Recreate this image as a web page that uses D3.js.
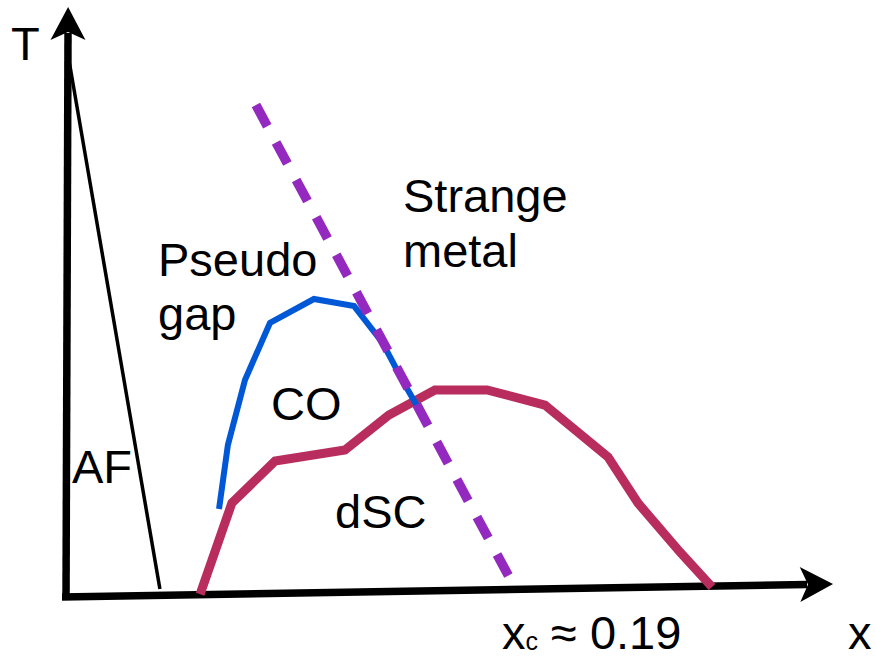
<!DOCTYPE html>
<html>
<head>
<meta charset="utf-8">
<script src="https://cdn.jsdelivr.net/npm/d3@7"></script>
<style>
  body { margin: 0; background: #fff; }
  text { font-family: "Liberation Sans", Arial, Helvetica, sans-serif; font-size: 47px; fill: #000; }
</style>
</head>
<body>
<div id="phase-diagram"></div>
<script>
// doping x and temperature T (arbitrary units)
const coX = [0.0655, 0.0693, 0.0766, 0.0873, 0.1061, 0.1233, 0.1353, 0.1451, 0.1545];
const coT = [47.4, 81.9, 116.9, 147.6, 160.5, 156.7, 137.3, 114.2, 93.7];

const scX = [0.0574, 0.0710, 0.0895, 0.1194, 0.1382, 0.1579, 0.1802, 0.2050, 0.2320, 0.2448, 0.2628, 0.2765];
const scT = [1.5, 50.6, 73.2, 79.2, 98.0, 111.5, 111.5, 103.4, 75.4, 50.6, 24.2, 5.4];

const afX = [0.0013, 0.0402];
const afT = [289, 4.3];

// strange metal / pseudogap crossover ending at x_c
const smX = [0.0813, 0.19];
const smT = [265, 10];

// hand drawn axes, slightly tilted
const xAxisX = [-0.0017, 0.3283];
const xAxisT = [0, 7];
const yAxisX = [0, 0.0009];
const yAxisT = [-1.6, 317.8];

const width = 876;
const height = 660;

const svg = d3.select("#phase-diagram")
  .append("svg")
  .attr("width", width)
  .attr("height", height)
  .attr("viewBox", [0, 0, width, height]);

// scales: doping -> px, temperature -> px
const xScale = d3.scaleLinear().domain([0, 0.33]).range([66, 837]);
const yScale = d3.scaleLinear().domain([0, 300]).range([597, 40]);

const line = d3.line()
  .x(d => xScale(d[0]))
  .y(d => yScale(d[1]));

// draws a shaft plus a notched arrow head at the second point
function arrow(xs, ts) {
  const p0 = [xScale(xs[0]), yScale(ts[0])];
  const p1 = [xScale(xs[1]), yScale(ts[1])];
  const dx = p1[0] - p0[0], dy = p1[1] - p0[1];
  const len = Math.hypot(dx, dy);
  const ux = dx / len, uy = dy / len;
  const nx = -uy, ny = ux;
  const L = 33, W = 17.5, notch = 25;
  svg.append("line")
    .attr("x1", p0[0]).attr("y1", p0[1])
    .attr("x2", p1[0] - ux * (notch + 1)).attr("y2", p1[1] - uy * (notch + 1))
    .attr("stroke", "#000")
    .attr("stroke-width", 7.5);
  const head = [
    p1,
    [p1[0] - ux * L + nx * W, p1[1] - uy * L + ny * W],
    [p1[0] - ux * notch, p1[1] - uy * notch],
    [p1[0] - ux * L - nx * W, p1[1] - uy * L - ny * W]
  ];
  svg.append("path")
    .attr("d", "M" + head.map(p => p.join(",")).join("L") + "Z")
    .attr("fill", "#000");
}

arrow(yAxisX, yAxisT);
arrow(xAxisX, xAxisT);

// AF boundary
svg.append("path")
  .attr("d", line(d3.zip(afX, afT)))
  .attr("fill", "none")
  .attr("stroke", "#000")
  .attr("stroke-width", 3.5);

// d-wave SC dome
svg.append("path")
  .attr("d", line(d3.zip(scX, scT)))
  .attr("fill", "none")
  .attr("stroke", "#b82d5d")
  .attr("stroke-width", 9);

// charge order dome (sits on top of the SC line)
svg.append("path")
  .attr("d", line(d3.zip(coX, coT)))
  .attr("fill", "none")
  .attr("stroke", "#0058d6")
  .attr("stroke-width", 6);

// dashed crossover line
svg.append("path")
  .attr("d", line(d3.zip(smX, smT)))
  .attr("fill", "none")
  .attr("stroke", "#9429bf")
  .attr("stroke-width", 9.5)
  .attr("stroke-dasharray", "24 18.5");

// labels
svg.append("text").attr("x", 11).attr("y", 60).text("T");
svg.append("text").attr("x", 848).attr("y", 649).text("x");
svg.append("text").attr("x", 72).attr("y", 483).text("AF");
svg.append("text").attr("x", 158).attr("y", 276).text("Pseudo");
svg.append("text").attr("x", 158).attr("y", 330).text("gap");
svg.append("text").attr("x", 403).attr("y", 212).text("Strange");
svg.append("text").attr("x", 403).attr("y", 267).text("metal");
svg.append("text").attr("x", 271).attr("y", 420).text("CO");
svg.append("text").attr("x", 335).attr("y", 528).text("dSC");

const xc = svg.append("text").attr("x", 502).attr("y", 649);
xc.append("tspan").text("x");
xc.append("tspan").attr("font-size", "25px").attr("dy", 1).text("c");
xc.append("tspan").attr("dy", -1).text(" ≈ 0.19");
</script>
</body>
</html>
